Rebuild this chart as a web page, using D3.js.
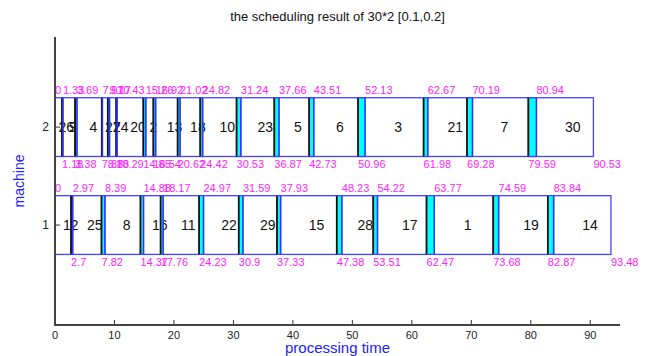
<!DOCTYPE html>
<html>
<head>
<meta charset="utf-8">
<script src="https://cdn.jsdelivr.net/npm/d3@7"></script>
<style>
  body { margin: 0; background: #fff; }
  svg { font-family: 'Liberation Sans', Arial, Helvetica, sans-serif; }
</style>
</head>
<body>
<svg id="chart"></svg>
<script>
// jobs per machine, in processing order, with start / end times
const m1Jobs = [12, 25, 8, 16, 11, 22, 29, 15, 28, 17, 1, 19, 14];
const m1Start = [0, 2.97, 8.39, 14.88, 18.17, 24.97, 31.59, 37.93, 48.23, 54.22, 63.77, 74.59, 83.84];
const m1End = [2.7, 7.82, 14.37, 17.76, 24.23, 30.9, 37.33, 47.38, 53.51, 62.47, 73.68, 82.87, 93.48];

const m2Jobs = [26, 9, 4, 27, 24, 20, 2, 13, 18, 10, 23, 5, 6, 3, 21, 7, 30];
const m2Start = [0, 1.33, 3.69, 7.97, 9.17, 10.43, 15.26, 16.92, 21.02, 24.82, 31.24, 37.66, 43.51, 52.13, 62.67, 70.19, 80.94];
const m2End = [1.18, 3.38, 7.87, 8.88, 10.29, 14.85, 16.54, 20.62, 24.42, 30.53, 36.87, 42.73, 50.96, 61.98, 69.28, 79.59, 90.53];

const machines = [1, 2];
const xTicks = [0, 10, 20, 30, 40, 50, 60, 70, 80, 90];
const xDomain = [0, 95];
const title = 'the scheduling result of 30*2 [0.1,0.2]';

class GanttChart {
  constructor(selector) {
    this.selector = selector;
    this.width = 653;
    this.height = 356;
    this.margin = {top: 37, right: 33, bottom: 31, left: 55};
    this.half = 0.3;  // half height of a machine row (y units)
  }

  createSVG() {
    this.svg = d3.select(this.selector)
      .attr('width', this.width)
      .attr('height', this.height);
    this.x = d3.scaleLinear()
      .domain(xDomain)
      .range([this.margin.left, this.width - this.margin.right]);
    // rows sit a little above the axis line, as in the original
    this.y = d3.scaleLinear()
      .domain([0, 2.92])
      .range([this.height - this.margin.bottom - 2, this.margin.top]);
  }

  drawRow(machine, jobs, starts, ends) {
    const x = this.x, y = this.y;
    const top = y(machine + this.half), bot = y(machine - this.half);
    const g = this.svg.append('g');
    const idx = d3.range(jobs.length);
    const gaps = d3.range(jobs.length - 1);

    // job boxes
    g.selectAll('rect.job').data(idx).enter()
      .append('rect')
      .attr('class', 'job')
      .attr('x', i => x(starts[i])).attr('y', top)
      .attr('width', i => x(ends[i]) - x(starts[i])).attr('height', bot - top)
      .attr('fill', '#fff').attr('stroke', '#4444ff').attr('stroke-width', 1.3);

    // job numbers and times
    g.selectAll('text.job').data(idx).enter()
      .append('text')
      .attr('class', 'job')
      .attr('x', i => x((starts[i] + ends[i]) / 2)).attr('y', y(machine))
      .attr('dy', '0.36em')
      .style('font-size', '14px').style('fill', '#111')
      .text(i => jobs[i]);
    g.selectAll('text.start').data(idx).enter()
      .append('text')
      .attr('class', 'start')
      .attr('x', i => x(starts[i])).attr('y', top - 4)
      .style('font-size', '11px').style('fill', '#ff22ff')
      .text(i => starts[i]);
    g.selectAll('text.end').data(idx).enter()
      .append('text')
      .attr('class', 'end')
      .attr('x', i => x(ends[i])).attr('y', bot + 12)
      .style('font-size', '11px').style('fill', '#ff22ff')
      .text(i => ends[i]);

    // idle gaps between jobs (drawn over the labels, like the original)
    g.selectAll('rect.gap').data(gaps).enter()
      .append('rect')
      .attr('class', 'gap')
      .attr('x', i => x(ends[i])).attr('y', top)
      .attr('width', i => x(starts[i + 1]) - x(ends[i])).attr('height', bot - top)
      .attr('fill', '#00ffff');
    g.selectAll('line.gapL').data(gaps).enter()
      .append('line')
      .attr('x1', i => x(ends[i])).attr('x2', i => x(ends[i]))
      .attr('y1', top).attr('y2', bot)
      .attr('stroke', '#111').attr('stroke-width', 1.8);
    g.selectAll('line.gapR').data(gaps).enter()
      .append('line')
      .attr('x1', i => x(starts[i + 1])).attr('x2', i => x(starts[i + 1]))
      .attr('y1', top).attr('y2', bot)
      .attr('stroke', '#3333ff').attr('stroke-width', 1.5);
    g.selectAll('path.gapEdge').data(gaps).enter()
      .append('path')
      .attr('d', i => `M${x(ends[i])},${top}H${x(starts[i + 1])}M${x(ends[i])},${bot}H${x(starts[i + 1])}`)
      .attr('stroke', '#4444ff').attr('stroke-width', 1.3);
  }

  drawAxes() {
    const x = this.x, y = this.y;
    const x0 = this.margin.left, y0 = this.height - this.margin.bottom;

    const xa = this.svg.append('g');
    xa.selectAll('line.tick').data(xTicks).enter()
      .append('line')
      .attr('x1', d => x(d)).attr('x2', d => x(d))
      .attr('y1', y0).attr('y2', y0 - 5)
      .attr('stroke', '#333').attr('stroke-width', 1);
    xa.selectAll('text').data(xTicks).enter()
      .append('text')
      .attr('x', d => x(d)).attr('y', y0 + 14)
      .attr('text-anchor', 'middle')
      .style('font-size', '11px').style('fill', '#222')
      .text(d => d);

    const ya = this.svg.append('g');
    ya.selectAll('line').data(machines).enter()
      .append('line')
      .attr('x1', x0).attr('x2', x0 + 5)
      .attr('y1', d => y(d)).attr('y2', d => y(d))
      .attr('stroke', '#333').attr('stroke-width', 1);
    ya.selectAll('text').data(machines).enter()
      .append('text')
      .attr('x', x0 - 6).attr('y', d => y(d))
      .attr('dy', '0.36em')
      .attr('text-anchor', 'end')
      .style('font-size', '12px').style('fill', '#222')
      .text(d => d);

    // left + bottom axis lines
    this.svg.append('path')
      .attr('d', `M${x0},${this.margin.top}V${y0}H${x(xDomain[1])}`)
      .attr('fill', 'none').attr('stroke', '#444').attr('stroke-width', 2);

    this.svg.append('text')
      .attr('x', (x0 + x(xDomain[1])) / 2).attr('y', y0 + 28)
      .attr('text-anchor', 'middle')
      .style('font-size', '15px').style('fill', '#2222ff')
      .text('processing time');

    this.svg.append('text')
      .attr('transform', `translate(24,${(this.margin.top + y0) / 2}) rotate(-90)`)
      .attr('text-anchor', 'middle')
      .style('font-size', '14px').style('fill', '#2222ff')
      .text('machine');
  }

  drawTitle() {
    this.svg.append('text')
      .attr('x', (this.margin.left + this.x(xDomain[1])) / 2)
      .attr('y', 21)
      .attr('text-anchor', 'middle')
      .style('font-size', '13px').style('fill', '#111')
      .text(title);
  }

  render() {
    this.createSVG();
    this.drawRow(2, m2Jobs, m2Start, m2End);
    this.drawRow(1, m1Jobs, m1Start, m1End);
    this.drawAxes();
    this.drawTitle();
  }
}

new GanttChart('#chart').render();
</script>
</body>
</html>
